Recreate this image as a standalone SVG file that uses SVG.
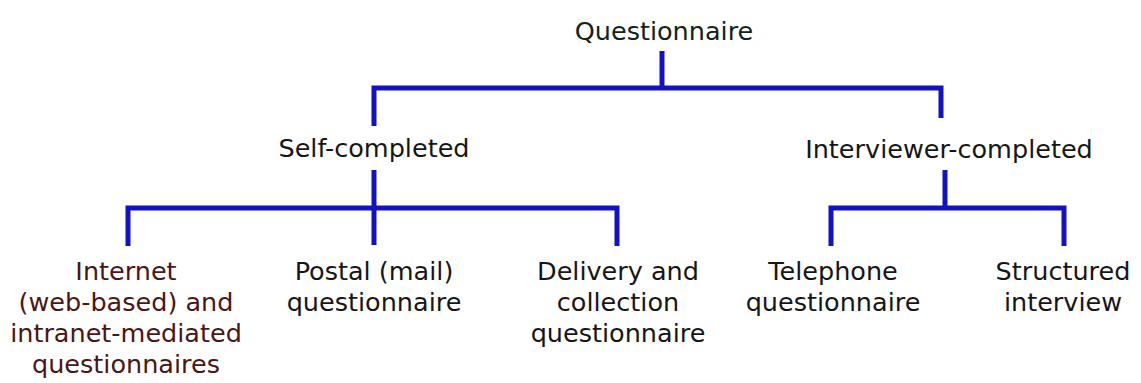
<svg xmlns="http://www.w3.org/2000/svg" width="1141" height="383" viewBox="0 0 1141 383">
<style>
text{font-family:"DejaVu Sans","Liberation Sans",sans-serif;font-size:25.5px;fill:#161616;text-anchor:middle}
.red{fill:#4a1616}
.c{fill:none;stroke:#1212c4;stroke-width:5;stroke-linecap:butt;stroke-linejoin:miter}
</style>
<rect width="1141" height="383" fill="#ffffff"/>
<g id="connectors">
<path class="c" d="M662 51V88"/>
<path class="c" d="M374 126V88H941V118"/>
<path class="c" d="M374 170V245"/>
<path class="c" d="M128 246V208H617V246"/>
<path class="c" d="M945 170V208"/>
<path class="c" d="M831 246V208H1064V246"/>
</g>
<g id="questionnaire"><text x="664" y="40" style="fill:#10241c">Questionnaire</text></g>
<g id="self-completed"><text x="374" y="157">Self-completed</text></g>
<g id="interviewer-completed"><text x="949" y="158">Interviewer-completed</text></g>
<g id="internet"><text class="red" x="126" y="280">Internet</text><text class="red" x="126" y="311">(web-based) and</text><text class="red" x="126" y="342">intranet-mediated</text><text class="red" x="126" y="373">questionnaires</text></g>
<g id="postal"><text x="374" y="280">Postal (mail)</text><text x="374" y="311">questionnaire</text></g>
<g id="delivery"><text x="618" y="280">Delivery and</text><text x="618" y="311">collection</text><text x="618" y="342">questionnaire</text></g>
<g id="telephone"><text x="833" y="280">Telephone</text><text x="833" y="311">questionnaire</text></g>
<g id="structured"><text x="1063" y="280">Structured</text><text x="1063" y="311">interview</text></g>
</svg>
